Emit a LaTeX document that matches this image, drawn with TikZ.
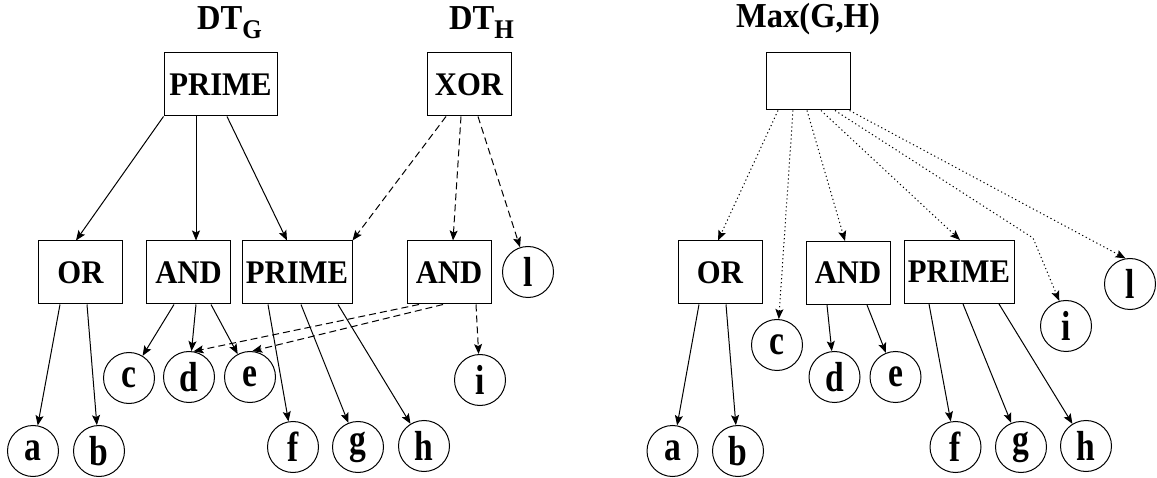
\documentclass[tikz,border=0pt]{standalone}
\usepackage{fontspec}
\setmainfont{Liberation Serif}[FakeStretch=0.93]
\newfontfamily\leaffont{Liberation Serif}[FakeStretch=0.8]
\usepackage{tikz}
\usetikzlibrary{arrows.meta}

\begin{document}
\begin{tikzpicture}[x=1pt,y=-1pt,->,>={Stealth[length=10pt,width=8pt,inset=2pt]},line width=1pt]

    \tikzstyle{op}=[draw,rectangle,minimum width=84pt,minimum height=63pt,inner sep=0pt,font=\bfseries\fontsize{33}{33}\selectfont]
    \tikzstyle{prime}=[op,minimum width=110pt]
    \tikzstyle{leaf}=[draw,circle,minimum size=51pt,inner sep=0pt,font=\leaffont\bfseries\fontsize{42}{42}\selectfont]
    \tikzstyle{title}=[inner sep=0pt,font=\bfseries\fontsize{35}{35}\selectfont]
    \tikzstyle{hedge}=[dash pattern=on 7pt off 4pt]
    \tikzstyle{medge}=[dash pattern=on 1.2pt off 2.8pt]

    \useasboundingbox (0,0) rectangle (1157,478);

    % the two trees DT_G and DT_H
    \node[title] (dtG) at (229.5,23) {DT\raisebox{-9pt}{\fontsize{27}{27}\selectfont G}};
    \node[title] (dtH) at (481.5,23) {DT\raisebox{-9pt}{\fontsize{27}{27}\selectfont H}};

    \node[prime,minimum width=113pt] (primeG) at (220.5,84.5) {PRIME};
    \node[op]    (xorH)    at (469,84.5)   {XOR};
    \node[op]    (orG)     at (80.5,272.5) {OR};
    \node[op]    (andG)    at (188.5,272.5) {AND};
    \node[prime] (primeGH) at (297,272.5)  {PRIME};
    \node[op]    (andH)    at (449,272.5)  {AND};

    \node[leaf] (l) at (528,272) {l};
    \node[leaf] (c) at (129,378) {c};
    \node[leaf] (d) at (189,377) {d};
    \node[leaf] (e) at (250,377) {e};
    \node[leaf] (i) at (480,380) {i};
    \node[leaf] (a) at (33,451)  {a};
    \node[leaf] (b) at (99,451)  {b};
    \node[leaf] (f) at (293,447) {f};
    \node[leaf] (g) at (358,447) {g};
    \node[leaf] (h) at (424,446) {h};

    \draw (primeG.south west) -- ([xshift=-4.5pt]orG.north);
    \draw ([xshift=-24.5pt]primeG.south) -- ([xshift=7.5pt]andG.north);
    \draw ([xshift=6.5pt]primeG.south) -- ([xshift=-10pt]primeGH.north);

    \draw[hedge] ([xshift=-23pt]xorH.south) -- (primeGH.north east);
    \draw[hedge] ([xshift=-8pt]xorH.south) -- ([xshift=4pt]andH.north);
    \draw[hedge] ([xshift=9pt]xorH.south) -- (l);

    \draw ([xshift=-20.5pt]orG.south) -- (a);
    \draw ([xshift=6.5pt]orG.south) -- (b);
    \draw ([xshift=-14.5pt]andG.south) -- (c);
    \draw ([xshift=7.5pt]andG.south) -- (d);
    \draw ([xshift=22.5pt]andG.south) -- (e);
    \draw ([xshift=-29pt]primeGH.south) -- (f);
    \draw ([xshift=4pt]primeGH.south) -- (g);
    \draw ([xshift=41pt]primeGH.south) -- (h);

    \draw[hedge] ([xshift=-30pt]andH.south) -- (d.80);
    \draw[hedge] ([xshift=-6pt]andH.south) -- (e.85);
    \draw[hedge] ([xshift=27pt]andH.south) -- (i);

    % the merged tree Max(G,H)
    \node[title] (maxT) at (808,19) {Max(G,H)};
    \node[draw,minimum width=84pt,minimum height=57pt,inner sep=0pt] (maxB) at (808,81.5) {};

    \node[op]    (orR)    at (720,272.5) {OR};
    \node[op]    (andR)   at (848,273)   {AND};
    \node[prime] (primeR) at (959,272)   {PRIME};

    \node[leaf] (cR) at (777,345)   {c};
    \node[leaf] (dR) at (834.5,377) {d};
    \node[leaf] (eR) at (895.5,377) {e};
    \node[leaf] (iR) at (1066,326)  {i};
    \node[leaf] (lR) at (1130,284)  {l};
    \node[leaf] (aR) at (672.5,451) {a};
    \node[leaf] (bR) at (738,451)   {b};
    \node[leaf] (fR) at (955.5,447) {f};
    \node[leaf] (gR) at (1021,447)  {g};
    \node[leaf] (hR) at (1086,446)  {h};

    \draw[medge] ([xshift=-30pt]maxB.south) -- ([xshift=-2pt]orR.north);
    \draw[medge] ([xshift=-15pt]maxB.south) -- (cR);
    \draw[medge] ([xshift=-1pt]maxB.south) -- ([xshift=-3pt]andR.north);
    \draw[medge] ([xshift=13pt]maxB.south) -- ([xshift=1pt]primeR.north);
    \draw[medge] ([xshift=27pt]maxB.south) -- (1033,238) -- (iR.105);
    \draw[medge] ([xshift=-1pt]maxB.south east) -- (lR.100);

    \draw ([xshift=-21pt]orR.south) -- (aR);
    \draw ([xshift=6pt]orR.south) -- (bR);
    \draw ([xshift=-21pt]andR.south) -- (dR);
    \draw ([xshift=19pt]andR.south) -- (eR);
    \draw ([xshift=-30pt]primeR.south) -- (fR);
    \draw ([xshift=4pt]primeR.south) -- (gR);
    \draw ([xshift=40pt]primeR.south) -- (hR);

\end{tikzpicture}
\end{document}
